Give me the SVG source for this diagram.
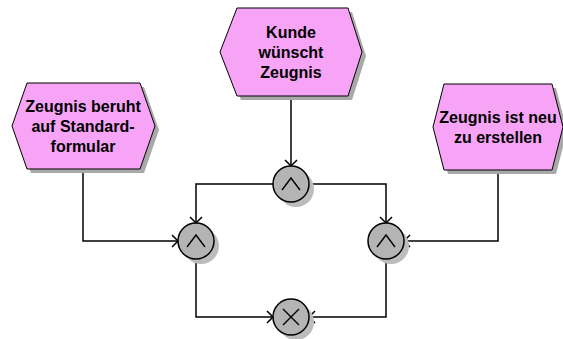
<svg xmlns="http://www.w3.org/2000/svg" width="563" height="339" viewBox="0 0 563 339">
<style>
.hex{fill:#f7a4f7;stroke:#000;stroke-width:1}
.hs{fill:#a9a9a9}
.gate{fill:#b4b4b4;stroke:#000;stroke-width:1.5}
.gs{fill:#bcbcbc}
.sym{fill:none;stroke:#000;stroke-width:1.4}
.t{font-family:"Liberation Sans",Arial,sans-serif;font-weight:bold;font-size:16px;text-anchor:middle;fill:#000}
.c{fill:none;stroke:#000;stroke-width:1.5;marker-end:url(#a)}
</style>
<defs>
<marker id="a" markerUnits="userSpaceOnUse" markerWidth="12" markerHeight="16" viewBox="-9 -8 10 16" refX="0" refY="0" orient="auto">
<path d="M-6,-6 L0,0 L-6,6" fill="none" stroke="#000" stroke-width="1.5"/>
</marker>
</defs>
<g id="connectors">
<path class="c" d="M291,96 V166"/>
<path class="c" d="M273,184 H196 V223"/>
<path class="c" d="M309,184 H386 V223"/>
<path class="c" d="M83,169 V241 H178"/>
<path class="c" d="M498,170 V241 H404"/>
<path class="c" d="M196,259 V317 H273"/>
<path class="c" d="M386,259 V317 H309"/>
</g>
<g id="ev-kunde">
<polygon class="hs" points="224,56 241,12 352,12 366,56 352,100 241,100"/>
<polygon class="hex" points="220,52 237,8 348,8 362,52 348,96 237,96"/>
<text class="t" x="291" y="38">Kunde</text>
<text class="t" x="291" y="58">wünscht</text>
<text class="t" x="291" y="78">Zeugnis</text>
</g>
<g id="ev-standard">
<polygon class="hs" points="16,130 31,87 144,87 159,130 144,173 31,173"/>
<polygon class="hex" points="12,126 27,83 140,83 155,126 140,169 27,169"/>
<text class="t" x="83" y="112">Zeugnis beruht</text>
<text class="t" x="83" y="132">auf Standard-</text>
<text class="t" x="83" y="152">formular</text>
</g>
<g id="ev-neu">
<polygon class="hs" points="437,131 448,88 556,88 567,131 556,174 448,174"/>
<polygon class="hex" points="433,127 444,84 552,84 563,127 552,170 444,170"/>
<text class="t" x="498" y="123">Zeugnis ist neu</text>
<text class="t" x="498" y="143">zu erstellen</text>
</g>
<g id="and-top">
<circle class="gs" cx="296" cy="189" r="18"/>
<circle class="gate" cx="291" cy="184" r="18"/>
<path class="sym" d="M282,190 L291,178 L300,190"/>
</g>
<g id="and-left">
<circle class="gs" cx="201" cy="246" r="18"/>
<circle class="gate" cx="196" cy="241" r="18"/>
<path class="sym" d="M187,247 L196,235 L205,247"/>
</g>
<g id="and-right">
<circle class="gs" cx="391" cy="246" r="18"/>
<circle class="gate" cx="386" cy="241" r="18"/>
<path class="sym" d="M377,247 L386,235 L395,247"/>
</g>
<g id="xor-bottom">
<circle class="gs" cx="296" cy="322" r="18"/>
<circle class="gate" cx="291" cy="317" r="18"/>
<path class="sym" d="M283,309 L299,325 M299,309 L283,325"/>
</g>
</svg>
